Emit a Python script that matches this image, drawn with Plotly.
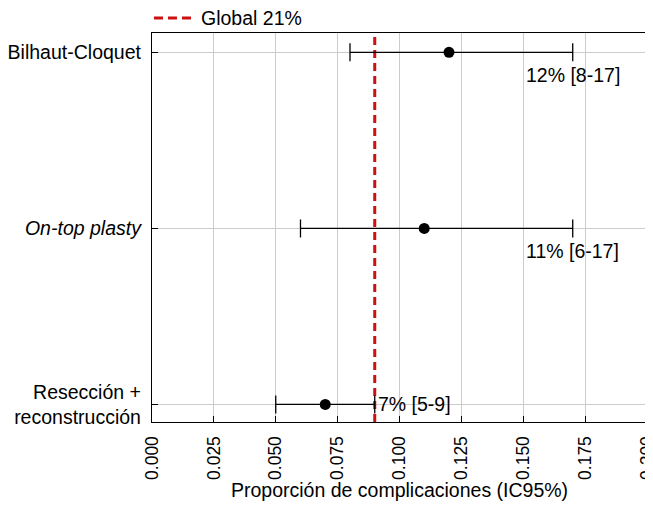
import plotly.graph_objects as go

categories = ["Bilhaut-Cloquet", "<i>On-top plasty</i>", "Resección +<br>reconstrucción"]
y_pos = [2, 1, 0]
estimate = [0.12, 0.11, 0.07]
lower = [0.08, 0.06, 0.05]
upper = [0.17, 0.17, 0.09]
labels = ["12% [8-17]", "11% [6-17]", "7% [5-9]"]
global_value = 0.09
global_label = "Global 21%"
x_ticks = [0.0, 0.025, 0.05, 0.075, 0.1, 0.125, 0.15, 0.175, 0.2]
x_ticktext = ["0.000", "0.025", "0.050", "0.075", "0.100", "0.125", "0.150", "0.175", "0.200"]
x_title = "Proporción de complicaciones (IC95%)"
x_range = [0, 0.20001]
y_range = [-0.1, 2.11]

FONT = "Liberation Sans, Arial, sans-serif"
FS = 19.5
FSX = 17.5
RED = "#cc1111"

fig = go.Figure()

fig.add_trace(go.Scatter(
    x=[global_value, global_value], y=y_range, mode="lines",
    line=dict(color=RED, width=3, dash="8px,5px"),
    name=global_label, showlegend=False, hoverinfo="skip",
))

fig.add_trace(go.Scatter(
    x=estimate, y=y_pos, mode="markers",
    marker=dict(color="black", size=11),
    error_x=dict(type="data", symmetric=False,
                 array=[u - e for u, e in zip(upper, estimate)],
                 arrayminus=[e - l for e, l in zip(estimate, lower)],
                 color="black", thickness=1.3, width=9),
    showlegend=False,
))

for i, (u, y, t) in enumerate(zip(upper, y_pos, labels)):
    if i < 2:
        fig.add_annotation(x=u, y=y, text=t, showarrow=False, xanchor="center",
                           yanchor="top", yshift=-10, font=dict(size=FS, color="black"))
    else:
        fig.add_annotation(x=u, y=y, text=t, showarrow=False, xanchor="left",
                           yanchor="middle", xshift=1, font=dict(size=FS, color="black"))

# legend key (drawn manually above the panel)
fig.add_shape(type="line", xref="paper", yref="paper", x0=0.004, x1=0.083,
              y0=1.0386, y1=1.0386, line=dict(color=RED, width=3, dash="9px,5px"))
fig.add_annotation(xref="paper", yref="paper", x=0.095, y=1.0386, text=global_label,
                   showarrow=False, xanchor="left", yanchor="middle",
                   font=dict(size=FS, color="black"))

# x axis title
fig.add_annotation(xref="paper", yref="paper", x=0.5, y=0, yshift=-68, text=x_title,
                   showarrow=False, xanchor="center", yanchor="middle",
                   font=dict(size=FS, color="black"))

fig.update_layout(
    width=645, height=521,
    margin=dict(l=144, r=6, t=25, b=107, autoexpand=False),
    plot_bgcolor="white", paper_bgcolor="white",
    font=dict(family=FONT, size=FS, color="black"),
    showlegend=False,
    xaxis=dict(range=x_range, tickvals=x_ticks, ticktext=x_ticktext, tickangle=-90,
               showgrid=True, gridcolor="#cccccc", gridwidth=1,
               ticks="inside", ticklen=6, tickcolor="black",
               showline=True, linecolor="black", linewidth=1.3, mirror=True,
               zeroline=False, tickfont=dict(size=FSX), automargin=False,
               ticklabelstandoff=6, ticklabeloverflow="allow"),
    yaxis=dict(range=y_range, tickvals=y_pos, ticktext=categories,
               showgrid=True, gridcolor="#cccccc", gridwidth=1,
               ticks="inside", ticklen=6, tickcolor="black",
               showline=True, linecolor="black", linewidth=1.3, mirror=True,
               zeroline=False, tickfont=dict(size=FS), automargin=False,
               ticklabelstandoff=6),
)

fig.write_html("out.html")
